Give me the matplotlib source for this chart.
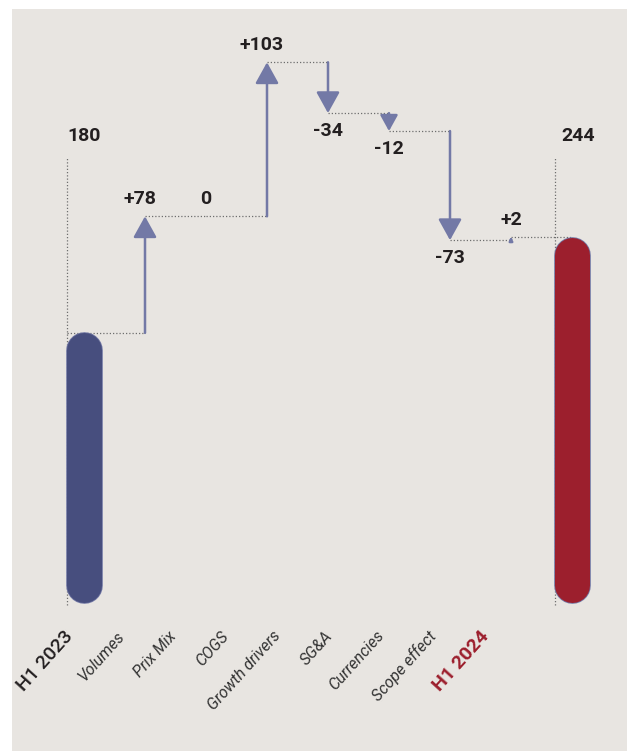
import numpy as np
import matplotlib
matplotlib.use("Agg")
import matplotlib.pyplot as plt

# values
categories = ["H1 2023", "Volumes", "Prix Mix", "COGS", "Growth drivers",
              "SG&A", "Currencies", "Scope effect", "H1 2024"]
start_total = 180
deltas = [78, 0, 103, -34, -12, -73, 2]
end_total = 244
delta_labels = ["+78", "0", "+103", "-34", "-12", "-73", "+2"]

BG = "#e8e5e1"
BLUE = "#474e7e"
RED = "#9c1f2d"
ARROW = "#7379a6"
TXT = "#231f20"
DOT = "#6e6e6e"

W, H = 627, 751
fig = plt.figure(figsize=(W / 100, H / 100), dpi=100, facecolor="white")
# grey panel with white margin top/left
ax = fig.add_axes([12 / W, 0, 1 - 12 / W, 1 - 9 / H])
ax.set_facecolor(BG)
for s in ax.spines.values():
    s.set_visible(False)
ax.set_xticks([])
ax.set_yticks([])

px_unit_x = 61.0
px_unit_y = 1.495
x0_px, base_px = 84 - 12, 602 - 9
ax_w, ax_h = W - 12, H - 9
ax.set_xlim(-x0_px / px_unit_x, (ax_w - x0_px) / px_unit_x)
ax.set_ylim(-(ax_h - base_px) / px_unit_y, base_px / px_unit_y)

pt_per_unit = px_unit_y * 0.72
xs = np.arange(len(categories))
levels = start_total + np.concatenate([[0], np.cumsum(deltas)])

bar_w_px = 35
r = bar_w_px / 2 / px_unit_y
half_x = bar_w_px / 2 / px_unit_x


def pill(x, v, color):
    ax.plot([x, x], [r, v - r], color=ARROW, lw=bar_w_px * 0.72 + 1.2,
            solid_capstyle="round", zorder=3)
    ax.plot([x, x], [r, v - r], color=color, lw=bar_w_px * 0.72,
            solid_capstyle="round", zorder=4)


dots = dict(color=DOT, lw=0.9, ls=(0, (1, 1.6)), zorder=2)
num = dict(fontsize=14, fontweight="bold", color=TXT, family="Roboto")

# totals
pill(xs[0], start_total, BLUE)
pill(xs[-1], end_total, RED)
for x in (xs[0], xs[-1]):
    ax.plot([x - half_x, x - half_x], [-2, 297], **dots)
ax.text(xs[0], 312, f"{start_total}", ha="center", va="center", **num)
ax.text(xs[-1] + 0.1, 312, f"{end_total}", ha="center", va="center", **num)

# connectors and arrows
prev_x = xs[0] - half_x
for i, d in enumerate(deltas):
    x = xs[i + 1]
    a, b = levels[i], levels[i + 1]
    ax.plot([prev_x, x], [a, a], **dots)
    if d != 0:
        ln = abs(d) * pt_per_unit
        ms = min(10, ln / 1.3 * 0.75)
        ax.annotate("", xy=(x, b), xytext=(x, a),
                    arrowprops=dict(arrowstyle="-|>,head_length=1.3,head_width=0.72",
                                    color=ARROW, lw=1.8, shrinkA=0, shrinkB=0,
                                    mutation_scale=ms), zorder=5)
    off = 12.5 if d >= 0 else -13
    ax.annotate(delta_labels[i], xy=(x, b), xytext=(-4 if d > 10 else 0, off),
                textcoords="offset points", ha="center", va="center", **num)
    prev_x = x
ax.plot([prev_x, xs[-1]], [levels[-1], levels[-1]], **dots)

# category labels (spaced a little tighter than the marks, as in the source)
for i, name in enumerate(categories):
    lx = -0.23 + 0.852 * i
    if i == 0:
        kw = dict(fontsize=14, fontweight="medium", color=TXT)
    elif i == len(categories) - 1:
        kw = dict(fontsize=14, fontweight="bold", color=RED)
    else:
        kw = dict(fontsize=11.5, fontweight="normal", style="italic", color="#333333")
    ax.text(lx, -21, name, rotation=48, rotation_mode="anchor",
            ha="right", va="center", family="Roboto", **kw)

fig.savefig("out.png", dpi=100, facecolor="white")
